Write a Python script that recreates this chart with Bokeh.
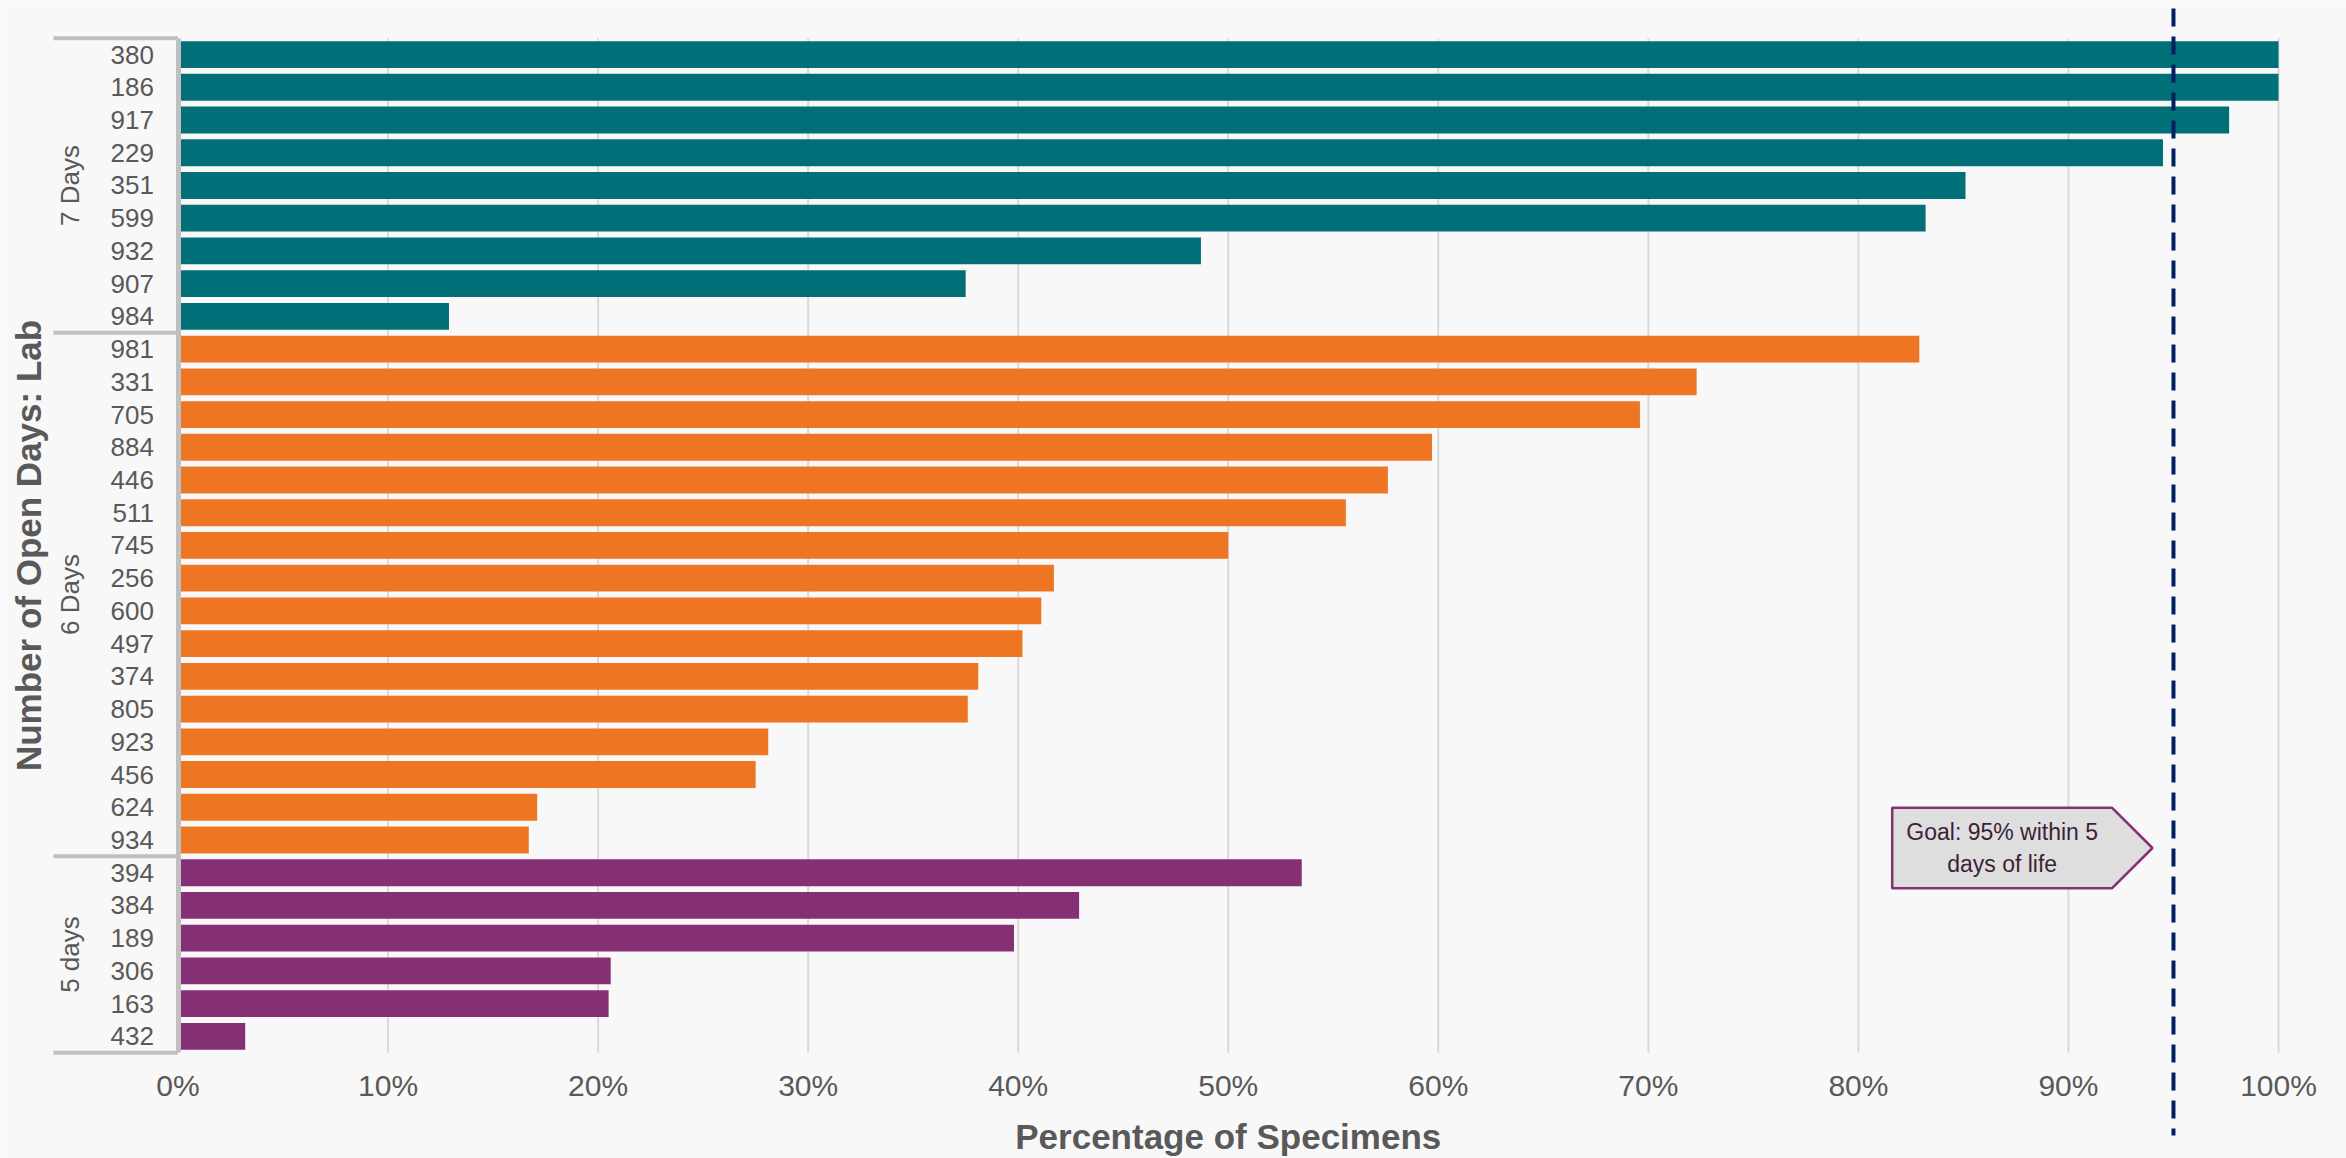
from math import pi

from bokeh.core.properties import value
from bokeh.embed import file_html
from bokeh.models import ColumnDataSource, FixedTicker, LinearAxis, Range1d
from bokeh.plotting import figure
from bokeh.resources import INLINE

# ---- data -------------------------------------------------------------
GROUPS = ["7 Days", "6 Days", "5 days"]

LABS_7 = ["380", "186", "917", "229", "351", "599", "932", "907", "984"]
PCT_7 = [100.0, 100.0, 97.65, 94.5, 85.1, 83.2, 48.7, 37.5, 12.9]

LABS_6 = ["981", "331", "705", "884", "446", "511", "745", "256",
          "600", "497", "374", "805", "923", "456", "624", "934"]
PCT_6 = [82.9, 72.3, 69.6, 59.7, 57.6, 55.6, 50.0, 41.7,
         41.1, 40.2, 38.1, 37.6, 28.1, 27.5, 17.1, 16.7]

LABS_5 = ["394", "384", "189", "306", "163", "432"]
PCT_5 = [53.5, 42.9, 39.8, 20.6, 20.5, 3.2]

X_TICKS = [0, 10, 20, 30, 40, 50, 60, 70, 80, 90, 100]
X_TICK_LABELS = ["0%", "10%", "20%", "30%", "40%", "50%",
                 "60%", "70%", "80%", "90%", "100%"]

GOAL = 95
GOAL_TEXT = "Goal: 95% within 5\ndays of life"
X_TITLE = "Percentage of Specimens"
Y_TITLE = "Number of Open Days: Lab"

GROUP_COLORS = ["#006f77", "#ee7623", "#853074"]

# ---- layout -----------------------------------------------------------
W, H = 2346, 1158
PLOT_LEFT, PLOT_RIGHT = 177.5, 2278.0     # canvas px of 0% and 100%
PLOT_TOP, PLOT_BOTTOM = 37.7, 1052.2      # canvas px of the category band
FONT = "Liberation Sans"
TEXT_GREY = "#595959"
BRACKET_GREY = "#bfbfbf"
BG = "#f8f8f8"

group_labs = [LABS_7, LABS_6, LABS_5]
group_pct = [PCT_7, PCT_6, PCT_5]
n = sum(len(g) for g in group_labs)

slot = (PLOT_BOTTOM - PLOT_TOP) / n
px_pct = (PLOT_RIGHT - PLOT_LEFT) / 100.0


def xpx(px):
    return (px - PLOT_LEFT) / px_pct


def ypx(py):
    return (n - 0.5) - (py - PLOT_TOP) / slot


x_range = Range1d(xpx(0), xpx(W))
y_range = Range1d(ypx(H), ypx(0))

# rows, top to bottom
labs, pcts, ys, colors = [], [], [], []
bounds = [n - 0.5]
group_mid = []
i = 0
for g, (gl, gp) in enumerate(zip(group_labs, group_pct)):
    start = i
    for lab, v in zip(gl, gp):
        labs.append(lab)
        pcts.append(v)
        ys.append(n - 1 - i)
        colors.append(GROUP_COLORS[g])
        i += 1
    bounds.append(n - 0.5 - i)
    group_mid.append(n - 1 - (start + i - 1) / 2.0)

p = figure(
    width=W, height=H,
    x_range=x_range, y_range=y_range,
    x_axis_type=None, y_axis_type=None,
    output_backend="svg", toolbar_location=None,
    min_border=0,
)
p.background_fill_color = BG
p.border_fill_color = BG
p.outline_line_color = None
p.grid.visible = False

# vertical gridlines over the category band
p.segment(x0=X_TICKS[1:], x1=X_TICKS[1:],
          y0=[-0.5] * (len(X_TICKS) - 1), y1=[n - 0.5] * (len(X_TICKS) - 1),
          line_color="#d9d9d9", line_width=2)

# bars
src = ColumnDataSource(dict(y=ys, right=pcts, color=colors, lab=labs))
p.hbar(y="y", left=0, right="right", height=0.82, fill_color="color",
       line_color=None, source=src)

# category brackets on the left
bx0 = xpx(53)
p.segment(x0=[bx0] * len(bounds), x1=[0] * len(bounds), y0=bounds, y1=bounds,
          line_color=BRACKET_GREY, line_width=4)

# group labels
p.text(x=[xpx(69)] * len(GROUPS), y=group_mid, text=GROUPS, angle=pi / 2,
       text_align="center", text_baseline="middle",
       text_font=value(FONT), text_font_size="26px", text_color=TEXT_GREY)

# goal line
p.segment(x0=[GOAL], x1=[GOAL], y0=[ypx(8)], y1=[ypx(1135)],
          line_color="#002060", line_width=4, line_dash="18 10")

# goal callout
ct, cb = ypx(807.3), ypx(887.7)
cm = (ct + cb) / 2
tip, body, left = GOAL - 1.0, GOAL - 2.92, GOAL - 13.39
p.patch(x=[left, body, tip, body, left], y=[ct, ct, cm, cb, cb],
        fill_color="#dedede", line_color="#853074", line_width=2.5)
p.text(x=[(left + body) / 2], y=[cm], text=[GOAL_TEXT],
       text_align="center", text_baseline="middle",
       text_font=value(FONT), text_font_size="23px", text_color="#3d1f3a",
       text_line_height=1.2)

# axis titles
p.text(x=[50], y=[ypx(1136)], text=[X_TITLE], text_align="center",
       text_baseline="middle", text_font=value(FONT), text_font_size="35px",
       text_font_style="bold", text_color=TEXT_GREY)
p.text(x=[xpx(28)], y=[(n - 1) / 2.0], text=[Y_TITLE], angle=pi / 2,
       text_align="center", text_baseline="middle", text_font=value(FONT),
       text_font_size="35px", text_font_style="bold", text_color=TEXT_GREY)

# axes
xaxis = LinearAxis(fixed_location=-0.5,
                   ticker=FixedTicker(ticks=X_TICKS),
                   major_label_overrides=dict(zip(X_TICKS, X_TICK_LABELS)))
xaxis.axis_line_color = None
xaxis.major_tick_line_color = None
xaxis.minor_tick_line_color = None
xaxis.major_label_standoff = 10
xaxis.major_label_text_font = FONT
xaxis.major_label_text_font_size = "30px"
xaxis.major_label_text_color = TEXT_GREY
p.add_layout(xaxis, "below")

yaxis = LinearAxis(fixed_location=0,
                   ticker=FixedTicker(ticks=ys),
                   major_label_overrides=dict(zip(ys, labs)),
                   bounds=(-0.5, n - 0.5))
yaxis.axis_line_color = BRACKET_GREY
yaxis.axis_line_width = 5
yaxis.major_tick_line_color = None
yaxis.minor_tick_line_color = None
yaxis.major_label_standoff = 18
yaxis.major_label_text_font = FONT
yaxis.major_label_text_font_size = "26px"
yaxis.major_label_text_color = TEXT_GREY
p.add_layout(yaxis, "left")

open("out.html", "w").write(file_html(p, INLINE))
